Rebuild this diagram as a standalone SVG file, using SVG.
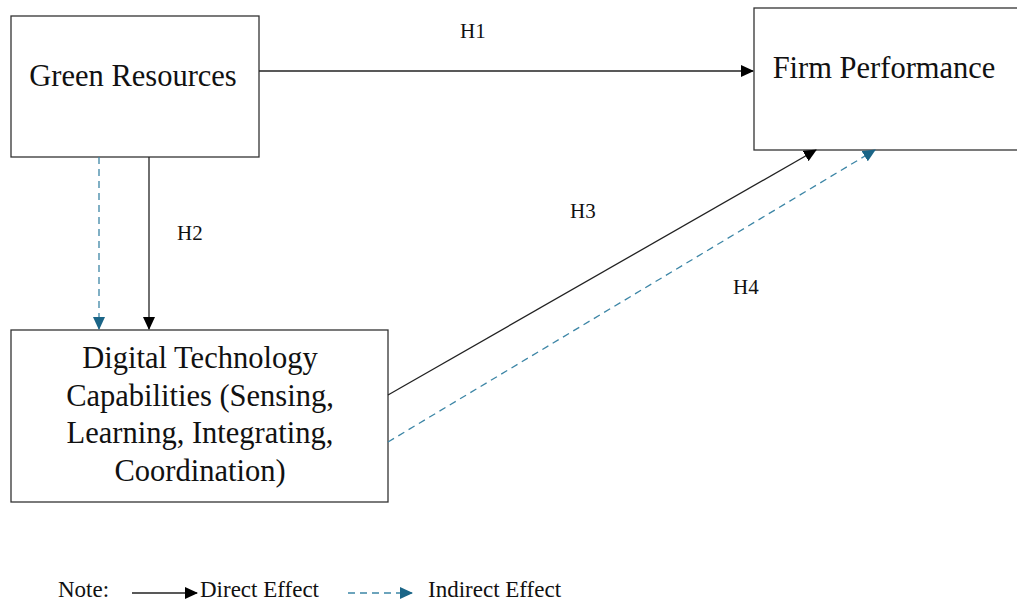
<svg xmlns="http://www.w3.org/2000/svg" width="1017" height="601" viewBox="0 0 1017 601">
<style>
.box{fill:#fff;stroke:#333;stroke-width:1.3}
.t{font-family:"Liberation Serif","Times New Roman",serif;fill:#111}
.big{font-size:30.5px}
.lbl{font-size:21px}
.note{font-size:23px}
.direct{stroke:#222;stroke-width:1.3;fill:none}
.indirect{stroke:#3d86a6;stroke-width:1.3;fill:none;stroke-dasharray:7,5}
</style>
<defs>
<marker id="ah" markerWidth="13" markerHeight="12" refX="12" refY="6" orient="auto" markerUnits="userSpaceOnUse" viewBox="0 0 13 12">
<path d="M0,0 L13,6 L0,12 z" fill="#000"/>
</marker>
<marker id="ahb" markerWidth="13" markerHeight="12" refX="12" refY="6" orient="auto" markerUnits="userSpaceOnUse" viewBox="0 0 13 12">
<path d="M0,0 L13,6 L0,12 z" fill="#1b6587"/>
</marker>
</defs>
<rect width="1017" height="601" fill="#fff"/>
<g id="green-resources">
<rect class="box" x="11" y="16" width="248" height="141"/>
<text class="t big" x="133" y="86" text-anchor="middle">Green Resources</text>
</g>
<g id="firm-performance">
<rect class="box" x="754" y="8" width="275" height="142"/>
<text class="t big" x="884" y="78" text-anchor="middle">Firm Performance</text>
</g>
<g id="digital-tech">
<rect class="box" x="11" y="330" width="377" height="172"/>
<text class="t big" text-anchor="middle"><tspan x="200" y="368">Digital Technology</tspan><tspan x="200" y="406">Capabilities (Sensing,</tspan><tspan x="200" y="443">Learning, Integrating,</tspan><tspan x="200" y="481">Coordination)</tspan></text>
</g>
<g id="connectors">
<line class="direct" x1="259" y1="71" x2="753" y2="71" marker-end="url(#ah)"/>
<line class="direct" x1="149" y1="157" x2="149" y2="329" marker-end="url(#ah)"/>
<line class="indirect" x1="99" y1="157" x2="99" y2="329" marker-end="url(#ahb)"/>
<line class="direct" x1="388" y1="395" x2="816" y2="150" marker-end="url(#ah)"/>
<line class="indirect" x1="388" y1="442" x2="875" y2="150" marker-end="url(#ahb)"/>
</g>
<g id="labels">
<text class="t lbl" x="460" y="38">H1</text>
<text class="t lbl" x="177" y="240">H2</text>
<text class="t lbl" x="570" y="218">H3</text>
<text class="t lbl" x="733" y="294">H4</text>
</g>
<g id="legend">
<text class="t note" x="58" y="597">Note:</text>
<line class="direct" x1="132" y1="593" x2="197" y2="593" marker-end="url(#ah)"/>
<text class="t note" x="200" y="597">Direct Effect</text>
<line class="indirect" x1="348" y1="593" x2="412" y2="593" marker-end="url(#ahb)"/>
<text class="t note" x="428" y="597">Indirect Effect</text>
</g>
</svg>
